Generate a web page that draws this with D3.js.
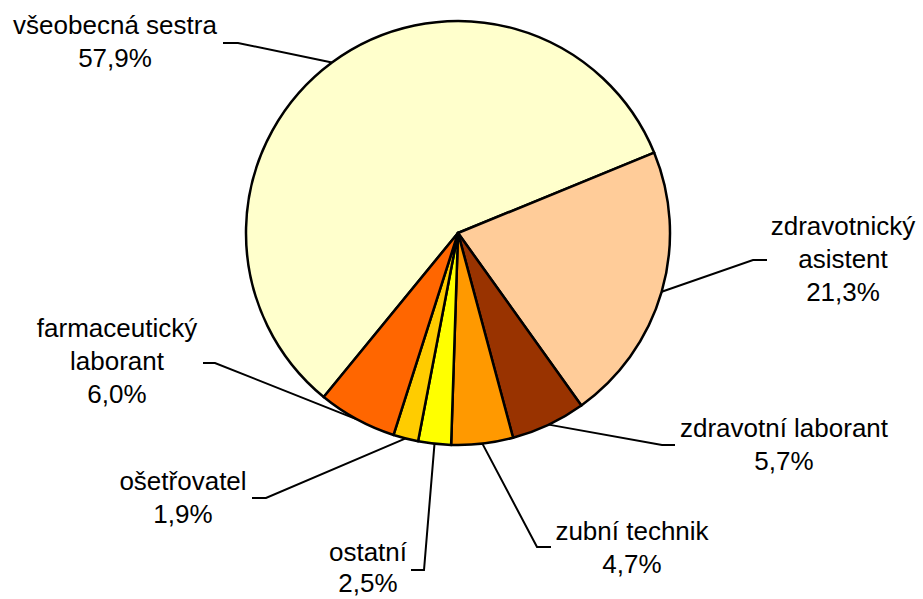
<!DOCTYPE html>
<html>
<head>
<meta charset="utf-8">
<script src="https://cdn.jsdelivr.net/npm/d3@7"></script>
<style>
  body { margin: 0; background: #fff; }
  text { font-family: "Liberation Sans", Arial, sans-serif; font-size: 26px; fill: #000; }
</style>
</head>
<body>
<svg id="chart" width="923" height="599"></svg>
<script>
// Data (shares in %), clockwise from the left-top edge of the big slice
const categories = ['všeobecná sestra', 'zdravotnický asistent', 'zdravotní laborant',
  'zubní technik', 'ostatní', 'ošetřovatel', 'farmaceutický laborant'];
const shares = [57.9, 21.3, 5.7, 4.7, 2.5, 1.9, 6.0];
const colors = ['#FFFFCC', '#FFCC99', '#993300', '#FF9900', '#FFFF00', '#FFCC00', '#FF6600'];

// Label layout: text centre, first baseline, line gap, leader elbow, horizontal end
const labelLayout = [
  { cx: 115, y: 34, gap: 33, wrap: false, elbow: [238, 43], end: [223, 43] },
  { cx: 843, y: 235, gap: 33, wrap: true, elbow: [753, 260], end: [767, 260] },
  { cx: 784, y: 437, gap: 33, wrap: false, elbow: [662, 445], end: [675, 445] },
  { cx: 632, y: 540, gap: 33, wrap: false, elbow: [537, 547], end: [551, 547] },
  { cx: 368, y: 561, gap: 31, wrap: false, elbow: [424, 570], end: [411, 570] },
  { cx: 183, y: 490, gap: 33, wrap: false, elbow: [266, 498], end: [252, 498] },
  { cx: 117, y: 337, gap: 33, wrap: true, elbow: [215, 363], end: [203, 363] }
];

const cx = 458, cy = 233, radius = 212;
const startAngle = -140.7 * Math.PI / 180;

const svg = d3.select('#chart');
const g = svg.append('g').attr('transform', `translate(${cx},${cy})`);

const data = categories.map((c, i) => ({ name: c, value: shares[i], color: colors[i], layout: labelLayout[i] }));

const pie = d3.pie()
  .sort(null)
  .value(d => d.value)
  .startAngle(startAngle)
  .endAngle(startAngle + 2 * Math.PI);

const arc = d3.arc().innerRadius(0).outerRadius(radius);
const edgeArc = d3.arc().innerRadius(radius).outerRadius(radius);

const arcs = pie(data);

// Slices
g.selectAll('path.slice')
  .data(arcs)
  .enter()
  .append('path')
  .attr('class', 'slice')
  .attr('d', arc)
  .style('fill', d => d.data.color)
  .style('stroke', '#000')
  .style('stroke-width', 2.5)
  .style('stroke-linejoin', 'round');

// Leader lines
svg.append('g')
  .selectAll('polyline')
  .data(arcs)
  .enter()
  .append('polyline')
  .attr('points', d => {
    const p = edgeArc.centroid(d);
    const l = d.data.layout;
    return [[p[0] + cx, p[1] + cy], l.elbow, l.end].map(q => q.join(',')).join(' ');
  })
  .style('fill', 'none')
  .style('stroke', '#000')
  .style('stroke-width', 2);

// Labels
const fmt = v => v.toFixed(1).replace('.', ',') + '%';
const labels = svg.append('g')
  .selectAll('text')
  .data(arcs)
  .enter()
  .append('text')
  .attr('text-anchor', 'middle')
  .attr('x', d => d.data.layout.cx)
  .attr('y', d => d.data.layout.y);

labels.each(function(d) {
  const lines = d.data.layout.wrap ? d.data.name.split(' ') : [d.data.name];
  lines.push(fmt(d.data.value));
  const t = d3.select(this);
  lines.forEach((line, i) => {
    t.append('tspan')
      .attr('x', d.data.layout.cx)
      .attr('dy', i === 0 ? 0 : d.data.layout.gap)
      .text(line);
  });
});
</script>
</body>
</html>
